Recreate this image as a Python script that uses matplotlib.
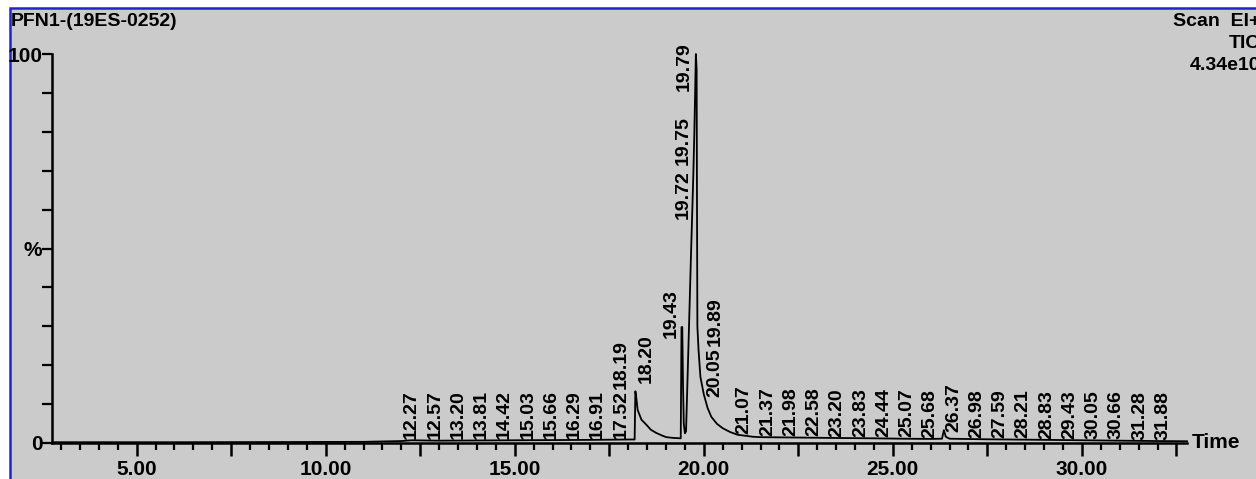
import numpy as np
import matplotlib
matplotlib.use("Agg")
import matplotlib.pyplot as plt
from matplotlib.patches import Rectangle
from matplotlib.ticker import FixedLocator, MultipleLocator, FuncFormatter

plt.rcParams['font.family'] = ['Liberation Sans', 'DejaVu Sans']
plt.rcParams['font.weight'] = 'bold'

# TIC trace (time in min, relative intensity in %)
time = [2.76, 6.0, 9.0, 11.0, 12.0, 12.27, 13.0, 14.0, 15.0, 16.0, 17.0, 17.52,
        18.0, 18.17, 18.19, 18.21, 18.25, 18.35, 18.48, 18.6, 18.74, 18.9, 19.01,
        19.2, 19.39, 19.41, 19.43, 19.45, 19.47, 19.5, 19.53, 19.6, 19.66, 19.72,
        19.75, 19.77, 19.79, 19.81, 19.82, 19.83, 19.86, 19.91, 20.0, 20.1, 20.2,
        20.35, 20.5, 20.7, 20.9, 21.07, 21.3, 21.5, 22.5, 23.4, 24.5, 25.3, 26.0,
        26.3, 26.35, 26.4, 26.5, 27.5, 29.1, 30.5, 32.0, 32.78]
tic = [0.2, 0.2, 0.25, 0.3, 0.5, 0.7, 0.6, 0.65, 0.7, 0.75, 0.8, 0.85,
       0.9, 0.9, 13.3, 12.0, 8.5, 6.0, 4.7, 3.4, 2.6, 1.9, 1.5,
       1.3, 1.2, 29.8, 29.8, 15.0, 5.0, 2.5, 3.0, 27.0, 48.0, 68.0,
       80.0, 90.0, 100.0, 96.0, 60.0, 30.0, 24.0, 17.0, 12.5, 9.0, 6.7,
       4.9, 3.8, 2.8, 2.1, 1.9, 1.6, 1.5, 1.4, 1.3, 1.2, 1.1, 1.05,
       1.1, 3.3, 1.6, 1.1, 0.95, 0.8, 0.65, 0.5, 0.45]

# peak labels along the baseline
early_peaks = [12.27, 12.57, 13.20, 13.81, 14.42, 15.03, 15.66, 16.29, 16.91, 17.52]
late_peaks = [21.07, 21.37, 21.98, 22.58, 23.20, 23.83, 24.44, 25.07, 25.68, 26.37,
              26.98, 27.59, 28.21, 28.83, 29.43, 30.05, 30.66, 31.28, 31.88]
# crowded labels round the main peak
cluster_peaks = ["18.19", "18.20", "19.43", "19.72", "19.75", "19.79", "20.05", "19.89"]

x_ticks_major = np.arange(2.5, 33, 2.5)

grey = '#cbcbcb'
blue = '#2424c4'
fs_peak = 14
fs_tick = 15
fs_head = 14

fig = plt.figure(figsize=(12.56, 4.79), dpi=100)
fig.patch.set_facecolor('white')
fig.patches.append(Rectangle((10 / 1256, -0.1), 1.2, 1 - 8 / 479 + 0.1,
                             transform=fig.transFigure, facecolor=grey,
                             edgecolor=blue, linewidth=1.8, zorder=-10))

ax = fig.add_axes([52 / 1256, 36 / 479, 1135 / 1256, 389 / 479])
ax.patch.set_alpha(0)
ax.plot(time, tic, color='black', lw=1.3, clip_on=False)
ax.set_xlim(2.76, 32.78)
ax.set_ylim(0, 100)

for s in ['top', 'right']:
    ax.spines[s].set_visible(False)
for s in ['left', 'bottom']:
    ax.spines[s].set_linewidth(1.8)

ax.xaxis.set_major_locator(FixedLocator(x_ticks_major))
ax.xaxis.set_minor_locator(MultipleLocator(0.5))
ax.xaxis.set_major_formatter(FuncFormatter(
    lambda v, p: f"{v:.2f}" if abs(v / 5 - round(v / 5)) < 1e-6 else ""))
ax.tick_params(axis='x', which='major', length=9, width=1.8, pad=3, labelsize=fs_tick)
ax.tick_params(axis='x', which='minor', length=5, width=1.6)

ax.yaxis.set_major_locator(FixedLocator([0, 50, 100]))
ax.yaxis.set_minor_locator(MultipleLocator(10))
ax.set_yticklabels(["0", "%", "100"])
ax.tick_params(axis='y', which='both', length=7, width=1.6, pad=0, labelsize=fs_tick)

ax.text(32.9, 0, "Time", ha='left', va='center', fontsize=fs_tick, clip_on=False)


def cascade(times, gap=0.615):
    xs = []
    for t in times:
        xs.append(t if not xs else max(t, xs[-1] + gap))
    return xs


def peak_label(txt, x, base):
    ax.text(x, base, txt, rotation=90, ha='center', va='bottom',
            fontsize=fs_peak, clip_on=False)


early_x = cascade(early_peaks)
late_x = cascade(late_peaks)
for t, x in zip(early_peaks + late_peaks, early_x + late_x):
    peak_label(f"{t:.2f}", x, np.interp(t, time, tic) + 0.3)

# stacked labels near the big peak
cluster_x = [early_x[-1], 18.49, 19.15, 19.45, 19.45, 19.47, 20.29, 20.29]
cluster_base = [14.0, 15.4, 27.0, 57.5, 71.5, 90.5, 11.8, 25.0]
for txt, x, b in zip(cluster_peaks, cluster_x, cluster_base):
    peak_label(txt, x, b)

# header texts (cut at the right edge, as in the source screenshot)
fig.text(11 / 1256, 1 - 22 / 479, "PFN1-(19ES-0252)", ha='left', va='center',
         fontsize=fs_head)
for i, line in enumerate(["Scan  EI+", "TIC", "4.34e10"]):
    fig.text(1260 / 1256, 1 - (22 + 21.5 * i) / 479, line, ha='right', va='center',
             fontsize=fs_head)

fig.savefig("out.png", dpi=100, facecolor=fig.get_facecolor())
